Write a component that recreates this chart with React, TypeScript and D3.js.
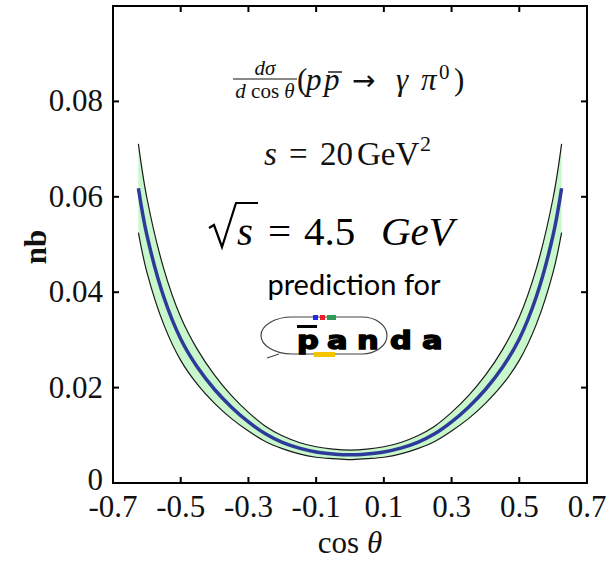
import React from 'react';
import * as d3 from 'd3';

// values
const cosTheta = [-0.625, -0.6, -0.55, -0.5, -0.45, -0.4, -0.35, -0.3, -0.25, -0.2, -0.15, -0.1, -0.05, 0,
  0.05, 0.1, 0.15, 0.2, 0.25, 0.3, 0.35, 0.4, 0.45, 0.5, 0.55, 0.6, 0.625];
const centre = [0.0618, 0.052, 0.039, 0.0302, 0.0242, 0.0196, 0.0159, 0.0128, 0.0103, 0.0085, 0.0073, 0.0065, 0.0061, 0.0059,
  0.0061, 0.0065, 0.0073, 0.0085, 0.0103, 0.0128, 0.0159, 0.0196, 0.0242, 0.0302, 0.039, 0.052, 0.0618];
const upper = [0.0711, 0.0598, 0.0449, 0.0348, 0.0279, 0.0226, 0.0183, 0.0148, 0.0119, 0.0099, 0.0085, 0.0076, 0.0071, 0.0069,
  0.0071, 0.0076, 0.0085, 0.0099, 0.0119, 0.0148, 0.0183, 0.0226, 0.0279, 0.0348, 0.0449, 0.0598, 0.0711];
const lower = [0.0525, 0.0442, 0.0332, 0.0257, 0.0206, 0.0167, 0.0135, 0.0109, 0.0087, 0.0072, 0.0061, 0.0054, 0.0051, 0.0049,
  0.0051, 0.0054, 0.0061, 0.0072, 0.0087, 0.0109, 0.0135, 0.0167, 0.0206, 0.0257, 0.0332, 0.0442, 0.0525];

const xTicks = [-0.7, -0.5, -0.3, -0.1, 0.1, 0.3, 0.5, 0.7];
const xTickLabels = ['-0.7', '-0.5', '-0.3', '-0.1', '0.1', '0.3', '0.5', '0.7'];
const yTicks = [0, 0.02, 0.04, 0.06, 0.08];
const yTickLabels = ['0', '0.02', '0.04', '0.06', '0.08'];

const logoLetters = ['p', 'a', 'n', 'd', 'a'];
const logoLetterX = [297, 327, 357, 390, 422];

const serif = '"Liberation Serif", "DejaVu Serif", serif';

export default function App() {
  const x = d3.scaleLinear().domain([-0.7, 0.7]).range([113, 587]);
  const y = d3.scaleLinear().domain([0, 0.1]).range([483, 6]);
  const idx = d3.range(cosTheta.length);

  const band = d3.area<number>()
    .x((i) => x(cosTheta[i]))
    .y0((i) => y(lower[i]))
    .y1((i) => y(upper[i]))
    .curve(d3.curveCatmullRom);
  const line = (vals: number[]) =>
    d3.line<number>().x((i) => x(cosTheta[i])).y((i) => y(vals[i])).curve(d3.curveCatmullRom)(idx) || '';

  const [x0, x1] = x.range();
  const [y0, y1] = y.range();

  return (
    <svg width={616} height={563} style={{ position: 'absolute', left: 0, top: 0, background: '#fff' }}>
      {/* band */}
      <path d={band(idx) || ''} fill="#c8f7cc" stroke="none" />
      <path d={line(upper)} fill="none" stroke="#1a1a1a" strokeWidth={1.2} />
      <path d={line(lower)} fill="none" stroke="#1a1a1a" strokeWidth={1.2} />
      <path d={line(centre)} fill="none" stroke="#2d3a9a" strokeWidth={3.5} />

      {/* frame */}
      <rect x={x0} y={y1} width={x1 - x0} height={y0 - y1} fill="none" stroke="#000" strokeWidth={2} />
      {xTicks.slice(1, -1).map((t) => (
        <g key={'xt' + t} stroke="#000" strokeWidth={2}>
          <line x1={x(t)} x2={x(t)} y1={y0} y2={y0 - 6} />
          <line x1={x(t)} x2={x(t)} y1={y1} y2={y1 + 6} />
        </g>
      ))}
      {yTicks.slice(1).map((t) => (
        <g key={'yt' + t} stroke="#000" strokeWidth={2}>
          <line x1={x0} x2={x0 + 6} y1={y(t)} y2={y(t)} />
          <line x1={x1} x2={x1 - 6} y1={y(t)} y2={y(t)} />
        </g>
      ))}

      {/* tick labels */}
      {xTicks.map((t, i) => (
        <text key={'xl' + t} x={x(t)} y={517} textAnchor="middle" fontFamily={serif} fontSize={31} fill="#111">
          {xTickLabels[i]}
        </text>
      ))}
      {yTicks.map((t, i) => (
        <text key={'yl' + t} x={103} y={y(t) + (t === 0 ? 7 : 10)} textAnchor="end" fontFamily={serif} fontSize={31}
          fill="#111">
          {yTickLabels[i]}
        </text>
      ))}

      {/* axis titles */}
      <text x={350} y={553} textAnchor="middle" fontFamily={serif} fontSize={31} fill="#111">
        cos <tspan fontStyle="italic">θ</tspan>
      </text>
      <text transform="translate(46,247) rotate(-90)" textAnchor="middle" fontFamily={serif} fontSize={31}
        fontWeight="bold" fill="#111">nb</text>

      {/* formula */}
      <g fontFamily={serif} fill="#111">
        <text x={265} y={75} textAnchor="middle" fontSize={21} fontStyle="italic">dσ</text>
        <line x1={233} x2={297} y1={79} y2={79} stroke="#111" strokeWidth={1} />
        <text x={265} y={98} textAnchor="middle" fontSize={21}>
          <tspan fontStyle="italic">d</tspan> cos <tspan fontStyle="italic">θ</tspan>
        </text>
        <text y={90} fontSize={31}>
          <tspan x={297}>(</tspan>
          <tspan x={306} fontStyle="italic">p</tspan>
          <tspan x={324} fontStyle="italic">p</tspan>
          <tspan x={352} fontFamily="'DejaVu Sans', sans-serif" fontSize={28}>→</tspan>
          <tspan x={396} fontStyle="italic">γ</tspan>
          <tspan x={421} fontStyle="italic">π</tspan>
          <tspan x={439} y={79} fontSize={21}>0</tspan>
          <tspan x={454} y={90}>)</tspan>
        </text>
        <line x1={328} x2={342} y1={72} y2={72} stroke="#111" strokeWidth={1.4} />
        <text y={165} fontSize={33}>
          <tspan x={264} fontStyle="italic">s</tspan>
          <tspan x={289}>=</tspan>
          <tspan x={320}>20</tspan>
          <tspan x={357}>GeV</tspan>
          <tspan x={420} y={151} fontSize={22}>2</tspan>
        </text>
      </g>

      {/* sqrt s = 4.5 GeV */}
      <g fontFamily={serif} fill="#000">
        <path d="M209,228 L214,225 L222,247 L236,203 L258,203" fill="none" stroke="#000" strokeWidth={2.2} />
        <text y={245} fontSize={41}>
          <tspan x={237} fontStyle="italic">s</tspan>
          <tspan x={268}>=</tspan>
          <tspan x={304}>4.5</tspan>
          <tspan x={381} fontStyle="italic">GeV</tspan>
        </text>
      </g>

      <text x={354} y={295} textAnchor="middle" fontFamily="Lato, 'Open Sans', sans-serif" fontSize={29} fill="#000">
        prediction for
      </text>

      {/* PANDA logo */}
      <g>
        <path d="M292,317 L362,317 A25,18.5 0 0 1 362,354 L292,354 A31,18.5 0 0 1 292,317 Z" fill="none"
          stroke="#444" strokeWidth={1.2} />
        <line x1={279} x2={267} y1={354} y2={358} stroke="#444" strokeWidth={1.2} />
        <rect x={313} y={315} width={5} height={5} fill="#1b2be8" />
        <rect x={320} y={315} width={5} height={5} fill="#e8202a" />
        <rect x={327} y={315} width={9} height={5} fill="#2e9a55" />
        <rect x={314} y={352} width={21} height={5} fill="#f5c400" />
        <rect x={297} y={325} width={20} height={3} fill="#000" />
        {logoLetters.map((ch, i) => (
          <text key={'lg' + i} transform={`translate(${logoLetterX[i]},349) scale(1.22,1)`}
            fontFamily="'DejaVu Sans', sans-serif" fontWeight="bold" fontSize={25} fill="#000" stroke="#000"
            strokeWidth={1.4}>{ch}</text>
        ))}
      </g>
    </svg>
  );
}
